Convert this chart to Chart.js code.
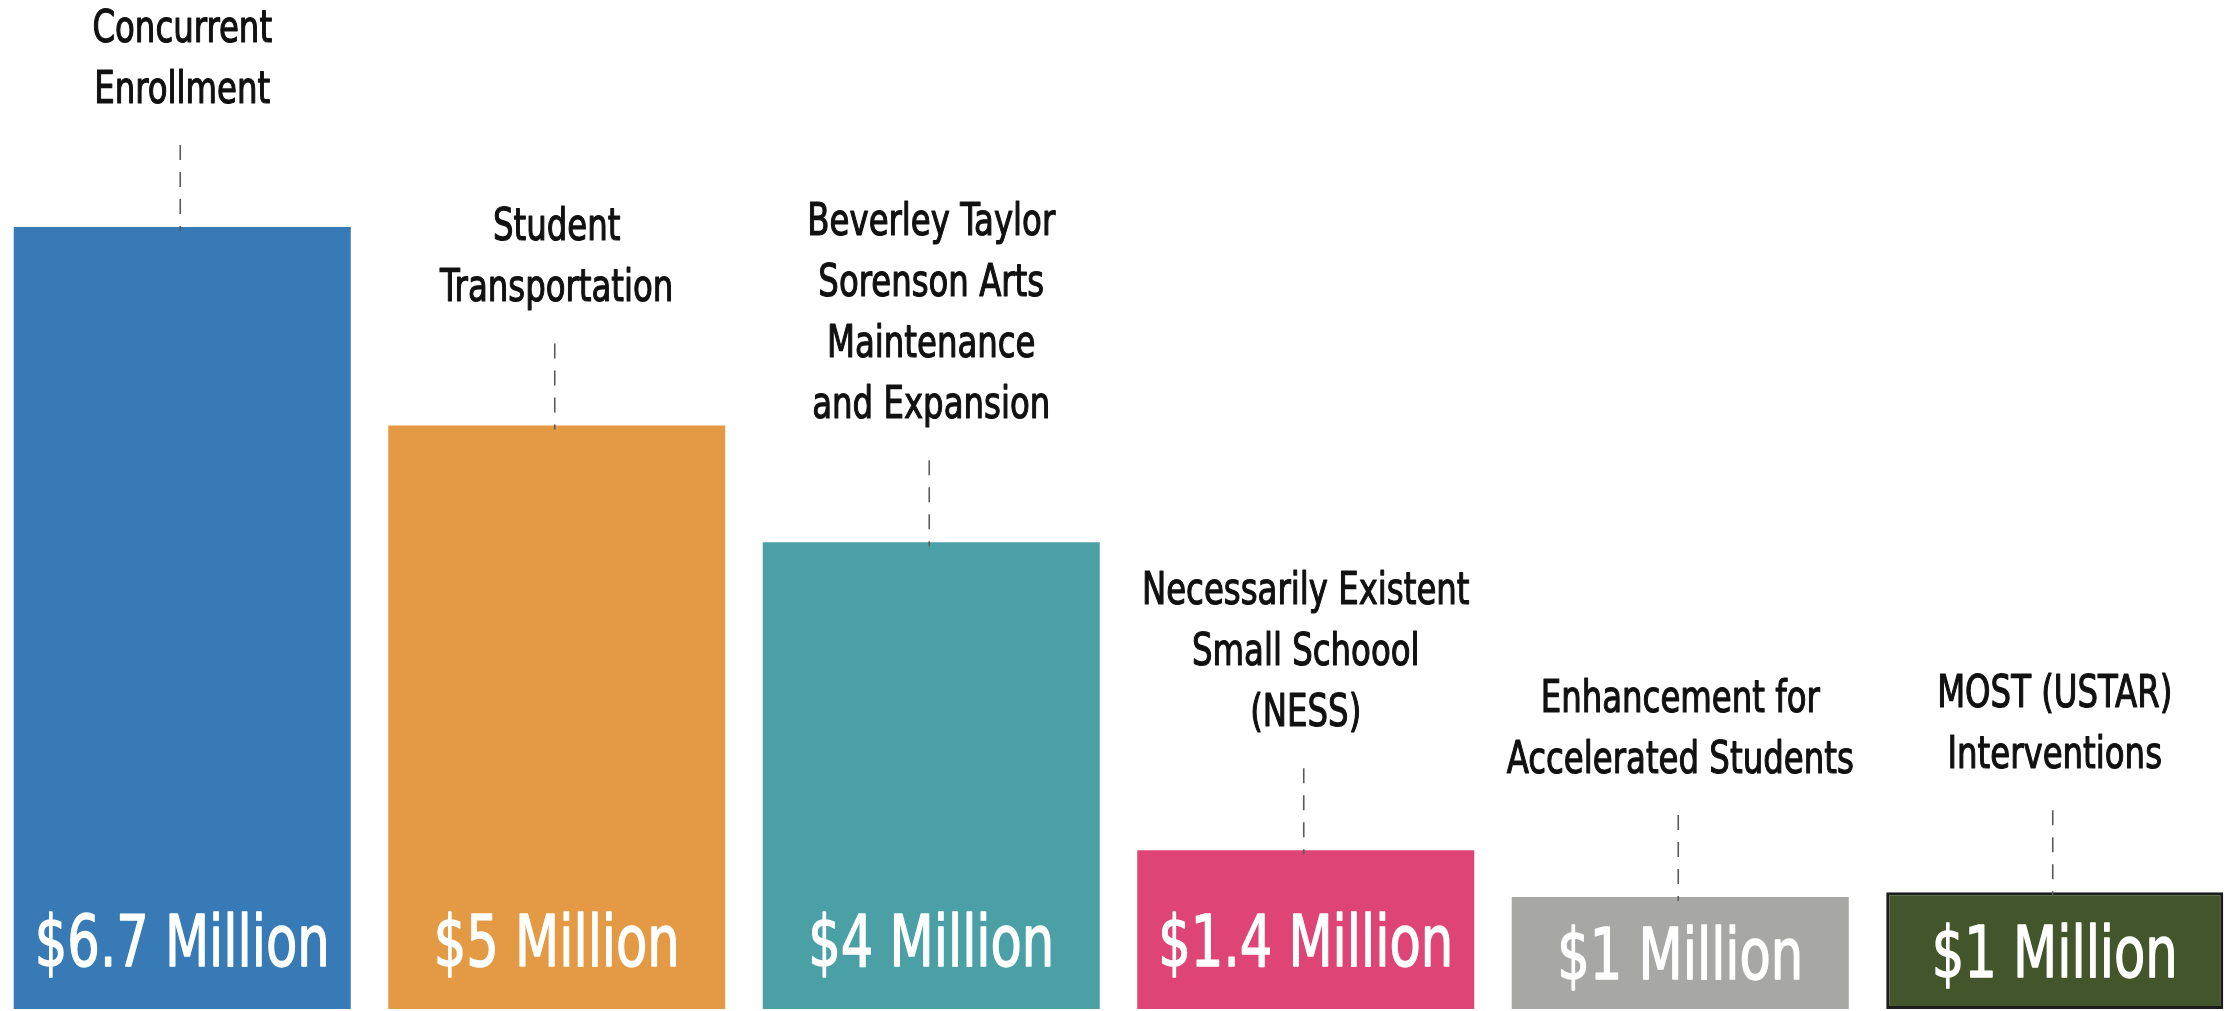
<!DOCTYPE html>
<html>
<head>
<meta charset="utf-8">
<script src="https://cdn.jsdelivr.net/npm/chart.js@4.4.1/dist/chart.umd.min.js"></script>
<style>
  html, body { margin: 0; padding: 0; background: #fff; overflow: hidden; }
  #wrap { position: absolute; left: -5px; top: 0; width: 2247px; height: 1011px; }
</style>
</head>
<body>
<div id="wrap"><canvas id="chart"></canvas></div>
<script>
// programs, top label split into lines
const categories = [
  ['Concurrent', 'Enrollment'],
  ['Student', 'Transportation'],
  ['Beverley Taylor', 'Sorenson Arts', 'Maintenance', 'and Expansion'],
  ['Necessarily Existent', 'Small Schoool', '(NESS)'],
  ['Enhancement for', 'Accelerated Students'],
  ['MOST (USTAR)', 'Interventions']
];
// funding in millions, as drawn
const amounts = [6.7, 5.0, 4.0, 1.36, 0.96, 1.0];
const amountLabels = ['$6.7 Million', '$5 Million', '$4 Million', '$1.4 Million', '$1 Million', '$1 Million'];
const colors = ['#387ab6', '#e49a45', '#4aa0a4', '#de4576', '#a7a7a6', '#43552b'];
const borders = ['#387ab6', '#e49a45', '#4aa0a4', '#de4576', '#a7a7a6', '#1c1c1c'];

const FONT = '"DejaVu Sans Condensed", "DejaVu Sans", sans-serif';

// squeeze text horizontally so it reads like the narrow face of the original,
// with a thin outline to get the slightly heavier weight
function narrowText(ctx, text, x, y, squeeze, weight) {
  ctx.save();
  ctx.translate(x, y);
  ctx.scale(squeeze, 1);
  ctx.fillText(text, 0, 0);
  ctx.strokeStyle = ctx.fillStyle;
  ctx.lineWidth = weight;
  ctx.lineJoin = 'round';
  ctx.strokeText(text, 0, 0);
  ctx.restore();
}

const calloutPlugin = {
  id: 'callouts',
  afterDatasetsDraw(chart) {
    const ctx = chart.ctx;
    const meta = chart.getDatasetMeta(0);
    const bottom = chart.scales.y.getPixelForValue(0);
    meta.data.forEach((bar, i) => {
      const x = bar.x;
      const top = bar.y;

      // dashed leader
      ctx.save();
      ctx.strokeStyle = '#5a5a5a';
      ctx.lineWidth = 1.6;
      ctx.setLineDash([15, 12]);
      ctx.beginPath();
      ctx.moveTo(x - 2, top - 82);
      ctx.lineTo(x - 2, top + 4);
      ctx.stroke();
      ctx.restore();

      // category text
      ctx.save();
      ctx.fillStyle = '#111';
      ctx.font = '45px ' + FONT;
      ctx.textAlign = 'center';
      ctx.textBaseline = 'alphabetic';
      const lines = categories[i];
      const last = top - 124;
      lines.forEach((line, j) => {
        narrowText(ctx, line, x, last - (lines.length - 1 - j) * 61, 0.8, 1.2);
      });
      ctx.restore();

      // value text inside bar
      ctx.save();
      ctx.fillStyle = '#fff';
      ctx.font = '72px ' + FONT;
      ctx.textAlign = 'center';
      ctx.textBaseline = 'alphabetic';
      const base = Math.max(bottom - 43, (top + bottom) / 2 + 26);
      narrowText(ctx, amountLabels[i], x, base, 0.79, 1.4);
      ctx.restore();
    });
  }
};

new Chart(document.getElementById('chart'), {
  type: 'bar',
  data: {
    labels: categories.map(c => c.join(' ')),
    datasets: [{
      data: amounts,
      backgroundColor: colors,
      borderColor: borders,
      borderWidth: [0, 0, 0, 0, 0, 3],
      borderSkipped: false,
      barPercentage: 1,
      categoryPercentage: 0.9
    }]
  },
  options: {
    responsive: true,
    maintainAspectRatio: false,
    animation: false,
    layout: { padding: { top: 0, bottom: 2, left: 0, right: 0 } },
    plugins: {
      legend: { display: false },
      tooltip: { enabled: false }
    },
    scales: {
      x: { display: false },
      y: { display: false, min: 0, max: 8.645 }
    }
  },
  plugins: [calloutPlugin]
});
</script>
</body>
</html>
